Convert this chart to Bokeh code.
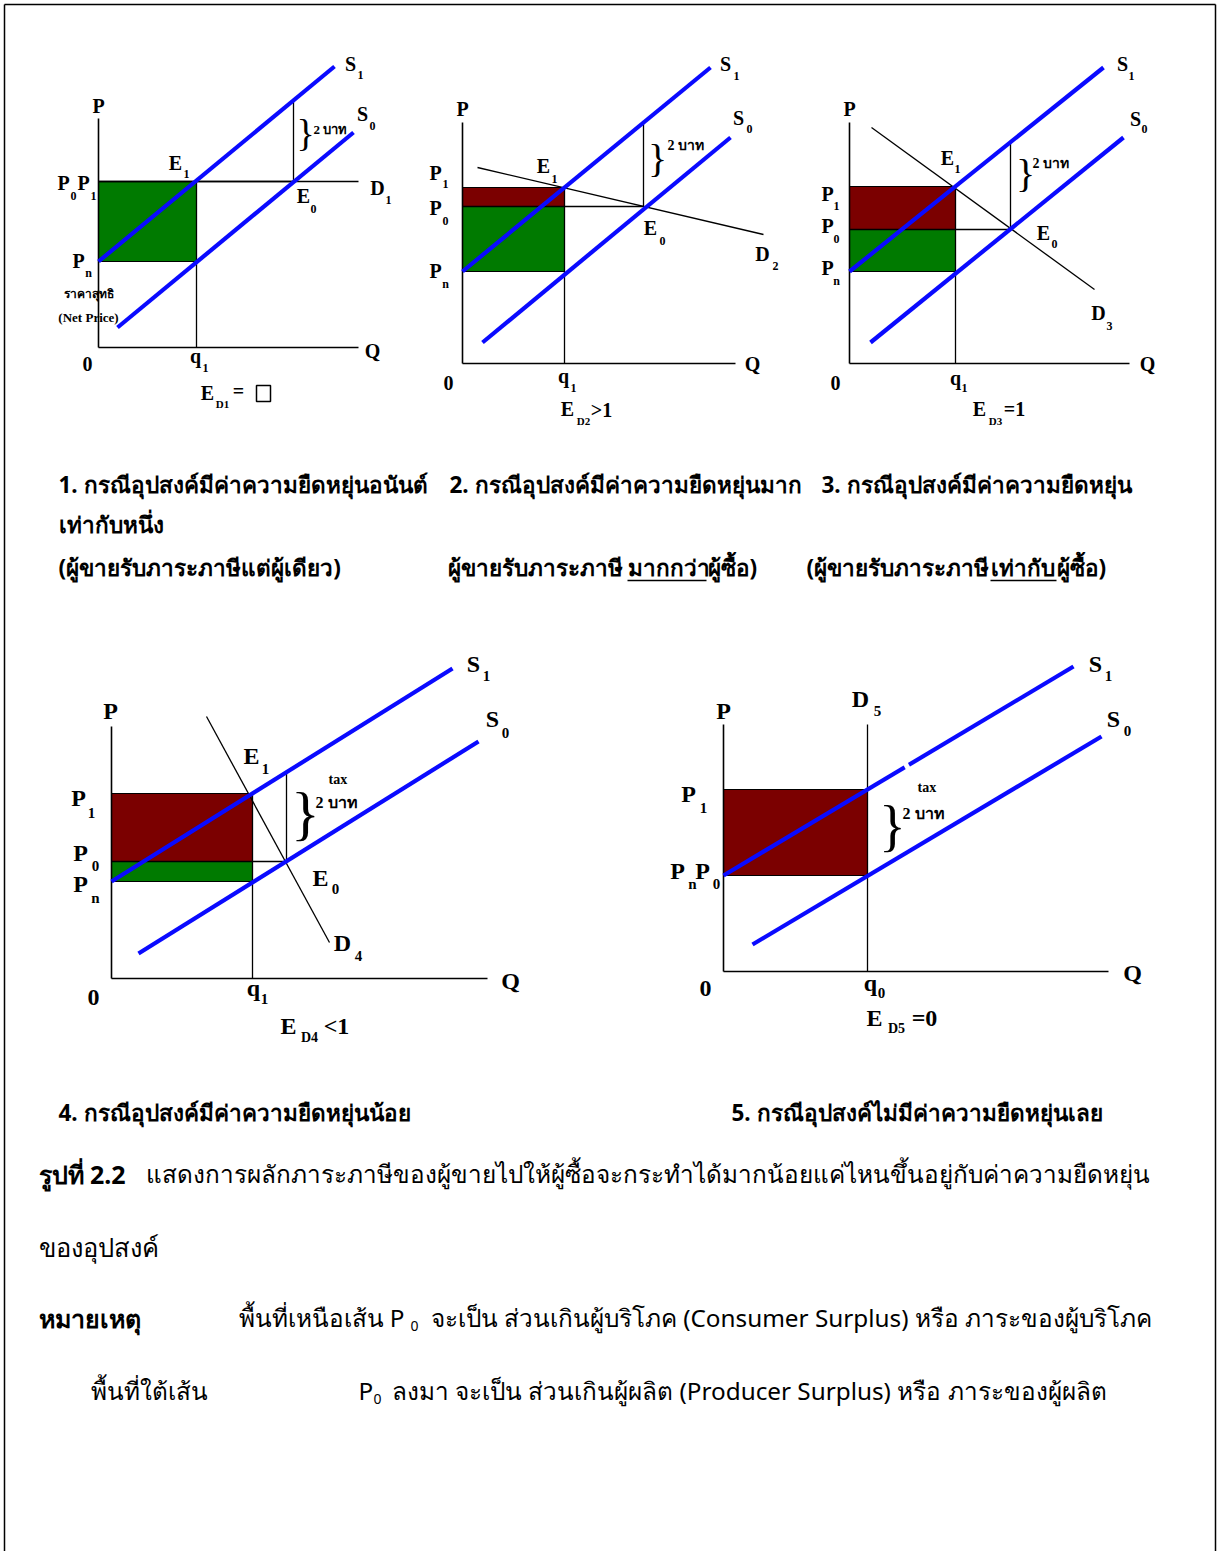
from bokeh.plotting import figure
from bokeh.models import Range1d, ColumnDataSource
from bokeh.embed import file_html
from bokeh.resources import INLINE
from bokeh.core.properties import value

W, H = 1218, 1551

# ---------------------------------------------------------------------------
# Diagram data, in panel units: quantity to the right, price upward,
# measured from each panel's axes corner.
# ---------------------------------------------------------------------------
PANELS = [1, 2, 3, 4, 5]
PANEL_ORIGIN = {1: (98, 347), 2: (462, 363), 3: (849, 363), 4: (111, 978), 5: (723, 971)}
AXIS_END = {1: (260, 229), 2: (273, 241), 3: (280, 241), 4: (376, 252), 5: (385, 247)}

# supply after tax (S1) and before tax (S0)
SUPPLY_S1 = {1: [(0, 86), (236, 281)], 2: [(0, 92), (248, 296)], 3: [(0, 92), (254, 296)],
             4: [(0, 97), (341, 310)], 5: [(0, 96), (350, 305)]}
SUPPLY_S0 = {1: [(19, 20), (255, 215)], 2: [(20, 21), (268, 226)], 3: [(21, 21), (274, 226)],
             4: [(27, 25), (367, 237)], 5: [(29, 27), (378, 235)]}
# demand curves D1..D5
DEMAND = {1: [(0, 166), (260, 166)], 2: [(15, 196), (301, 129)], 3: [(22, 236), (245, 74)],
          4: [(95, 262), (218, 36)], 5: [(144, 0), (144, 247)]}

PRICE_P1 = {1: 166, 2: 176, 3: 177, 4: 185, 5: 182}   # buyer price with tax
PRICE_P0 = {1: 166, 2: 157, 3: 134, 4: 117, 5: 96}    # price before tax
PRICE_PN = {1: 86, 2: 92, 3: 92, 4: 97, 5: 96}        # net price to seller
QTY_Q1 = {1: 98, 2: 102, 3: 106, 4: 141, 5: 144}      # quantity with tax
QTY_E0 = {1: 195, 2: 181, 3: 161, 4: 175, 5: 144}     # quantity before tax

BLUE = "#0a0aff"
MAROON = "#7b0000"
GREEN = "#007a00"
SERIF = "Liberation Serif"
THAI = "Noto Sans"


def page(k, pts):
    ox, oy = PANEL_ORIGIN[k]
    return [ox + q for q, _ in pts], [oy - pr for _, pr in pts]


def on_line(seg, q):
    (q0, p0), (q1, p1) = seg
    return p0 + (p1 - p0) * (q - q0) / (q1 - q0)


p = figure(width=W, height=H, x_range=Range1d(0, W), y_range=Range1d(H, 0),
           output_backend="svg", toolbar_location=None, min_border=0)
p.axis.visible = False
p.grid.visible = False
p.outline_line_color = None
p.background_fill_color = "white"

# page frame
p.multi_line(xs=[[4, 4], [4, 1215], [1215, 1215]], ys=[[1551, 4], [4, 4], [4, 1551]],
             line_color="black", line_width=1.5)

# ---- shaded tax burden areas
for k in PANELS:
    ox, oy = PANEL_ORIGIN[k]
    q1 = QTY_Q1[k]
    if PRICE_P0[k] > PRICE_PN[k]:
        p.quad(left=ox, right=ox + q1, top=oy - PRICE_P0[k], bottom=oy - PRICE_PN[k],
               fill_color=GREEN, line_color="black", line_width=1)
    if PRICE_P1[k] > PRICE_P0[k]:
        p.quad(left=ox, right=ox + q1, top=oy - PRICE_P1[k], bottom=oy - PRICE_P0[k],
               fill_color=MAROON, line_color="black", line_width=1)

# ---- axes, guides and demand
for k in PANELS:
    ox, oy = PANEL_ORIGIN[k]
    qe, pt = AXIS_END[k]
    p.line([ox, ox], [oy, oy - pt], line_color="black", line_width=1.6)
    p.line([ox, ox + qe], [oy, oy], line_color="black", line_width=1.6)
    xs, ys = page(k, DEMAND[k])
    p.line(xs, ys, line_color="black", line_width=1.3)
    if k != 5:
        q1, qE = QTY_Q1[k], QTY_E0[k]
        # q1 drop line
        xs, ys = page(k, [(q1, 0), (q1, PRICE_P1[k])])
        p.line(xs, ys, line_color="black", line_width=1.3)
        # P0 level to the old equilibrium
        xs, ys = page(k, [(0, PRICE_P0[k]), (qE, PRICE_P0[k])])
        p.line(xs, ys, line_color="black", line_width=1.3)
        # vertical tax wedge between S0 and S1
        xs, ys = page(k, [(qE, PRICE_P0[k]), (qE, on_line(SUPPLY_S1[k], qE))])
        p.line(xs, ys, line_color="black", line_width=1.3)

# ---- supply curves
for k in PANELS:
    for seg in (SUPPLY_S1[k], SUPPLY_S0[k]):
        xs, ys = page(k, seg)
        p.line(xs, ys, line_color=BLUE, line_width=4.2)

# small break in S1 where a label box sat
p.rect(x=[906], y=[765], width=[5], height=[14], angle=[0.5], fill_color="white",
       line_color=None)

# ---- diagram labels (bold serif), centred
A, a = 20, 12      # upper three diagrams: letters, subscripts
B, b = 24, 15      # lower two diagrams
LBL = [
    # panel 1
    ("P", 98, 105, A), ("S", 350, 63, A), ("1", 360, 74, a), ("S", 362, 113, A), ("0", 372, 125, a),
    ("E", 175, 162, A), ("1", 186, 173, a), ("P", 63, 182, A), ("0", 73, 195, a),
    ("P", 83, 182, A), ("1", 93, 195, a), ("D", 377, 187, A), ("1", 388, 199, a),
    ("E", 303, 195, A), ("0", 313, 208, a), ("P", 78, 260, A), ("n", 88, 272, a),
    ("ราคาสุทธิ", 88, 293, 12), ("(Net Price)", 88, 317, 13), ("0", 87, 363, A),
    ("q", 195, 355, A), ("1", 205, 367, a), ("Q", 372, 350, A),
    ("E", 207, 392, A), ("D1", 222, 403, 11), ("=", 238, 390, A),
    # panel 2
    ("P", 462, 108, A), ("S", 725, 63, A), ("1", 736, 75, a), ("S", 738, 117, A), ("0", 749, 128, a),
    ("P", 435, 172, A), ("1", 445, 183, a), ("E", 543, 165, A), ("1", 554, 178, a),
    ("P", 435, 207, A), ("0", 445, 220, a), ("E", 650, 227, A), ("0", 662, 240, a),
    ("D", 762, 253, A), ("2", 775, 265, a), ("P", 435, 270, A), ("n", 445, 283, a),
    ("0", 448, 382, A), ("q", 563, 375, A), ("1", 573, 387, a), ("Q", 752, 363, A),
    ("E", 567, 408, A), ("D2", 583, 420, 11), (">1", 601, 409, A),
    # panel 3
    ("P", 849, 108, A), ("S", 1122, 63, A), ("1", 1131, 75, a), ("S", 1135, 118, A), ("0", 1144, 128, a),
    ("E", 947, 157, A), ("1", 957, 168, a), ("P", 827, 193, A), ("1", 836, 205, a),
    ("P", 827, 225, A), ("0", 836, 238, a), ("E", 1043, 232, A), ("0", 1054, 243, a),
    ("P", 827, 267, A), ("n", 836, 280, a), ("D", 1098, 312, A), ("3", 1109, 325, a),
    ("0", 835, 382, A), ("q", 955, 377, A), ("1", 964, 387, a), ("Q", 1147, 363, A),
    ("E", 979, 408, A), ("D3", 995, 420, 11), ("=1", 1014, 408, A),
    # panel 4
    ("P", 110, 710, B), ("S", 473, 663, B), ("1", 486, 675, b), ("S", 492, 718, B), ("0", 505, 732, b),
    ("E", 251, 755, B), ("1", 265, 768, b), ("P", 78, 797, B), ("1", 91, 812, b),
    ("P", 80, 852, B), ("0", 95, 865, b), ("P", 80, 883, B), ("n", 95, 897, b),
    ("E", 320, 877, B), ("0", 335, 888, b), ("D", 342, 942, B), ("4", 358, 955, b),
    ("0", 93, 997, B), ("q", 253, 987, B), ("1", 264, 998, b), ("Q", 510, 980, B),
    ("E", 288, 1025, B), ("D4", 309, 1037, 14), ("<1", 336, 1025, B),
    # panel 5
    ("P", 723, 710, B), ("D", 860, 698, B), ("5", 877, 710, b),
    ("S", 1095, 663, B), ("1", 1108, 675, b), ("S", 1113, 718, B), ("0", 1127, 730, b),
    ("P", 688, 793, B), ("1", 703, 807, b), ("P", 677, 870, B), ("n", 692, 883, b),
    ("P", 702, 870, B), ("0", 716, 883, b), ("0", 705, 988, B),
    ("q", 870, 982, B), ("0", 881, 992, b), ("Q", 1132, 972, B),
    ("E", 874, 1017, B), ("D5", 896, 1028, 14), ("=0", 924, 1017, B),
]
src = ColumnDataSource(dict(t=[r[0] for r in LBL], x=[r[1] for r in LBL], y=[r[2] for r in LBL],
                            s=["%dpx" % r[3] for r in LBL]))
p.text(x="x", y="y", text="t", text_font_size="s", source=src, text_font=value(SERIF),
       text_font_style="bold", text_align="center", text_baseline="middle", text_color="black")

# empty box after E_D1 =
p.rect(x=[263], y=[393], width=[14], height=[16], fill_color=None, line_color="black", line_width=1.5)

# tax braces and the 2-baht notes
BRACES = [(305, 132, 38), (657, 158, 40), (1025, 173, 40), (305, 812, 60), (892, 825, 56)]
p.text(x=[br[0] for br in BRACES], y=[br[1] for br in BRACES], text=["}"] * len(BRACES),
       text_font_size=["%dpx" % br[2] for br in BRACES], text_font=value(SERIF),
       text_align="center", text_baseline="middle", text_color="black")
NOTES = [("2 บาท", 313, 129, 13), ("2 บาท", 667, 145, 14), ("2 บาท", 1032, 163, 14),
         ("2 บาท", 315, 802, 16), ("2 บาท", 902, 813, 16), ("tax", 917, 787, 14), ("tax", 328, 779, 14)]
p.text(x=[n[1] for n in NOTES], y=[n[2] for n in NOTES], text=[n[0] for n in NOTES],
       text_font_size=["%dpx" % n[3] for n in NOTES], text_font=value(SERIF), text_font_style="bold",
       text_align="left", text_baseline="middle", text_color="black")
# the clipped "tax" over the fourth diagram
p.quad(left=[322], right=[362], top=[760], bottom=[774], fill_color="white", line_color=None)


# ---- captions and notes
def put(txt, x, y, size, bold=False):
    p.text(x=[x], y=[y], text=[txt], text_font=value(THAI), text_font_size="%.1fpx" % size,
           text_font_style="bold" if bold else "normal", text_align="left",
           text_baseline="middle", text_color="black")


CAP = 22.5
put("1. กรณีอุปสงค์มีค่าความยืดหยุ่นอนันต์", 58, 484, CAP, True)
put("2. กรณีอุปสงค์มีค่าความยืดหยุ่นมาก", 449, 484, CAP, True)
put("3. กรณีอุปสงค์มีค่าความยืดหยุ่น", 821, 484, CAP, True)
put("เท่ากับหนึ่ง", 58, 524, CAP, True)
put("(ผู้ขายรับภาระภาษีแต่ผู้เดียว)", 58, 567, CAP, True)
put("ผู้ขายรับภาระภาษี", 447, 567, CAP, True)
put("มากกว่า", 627, 567, CAP, True)
put("ผู้ซื้อ)", 707, 567, CAP, True)
put("(ผู้ขายรับภาระภาษี", 806, 567, CAP, True)
put("เท่ากับ", 990, 567, CAP, True)
put("ผู้ซื้อ)", 1056, 567, CAP, True)
p.multi_line(xs=[[627, 706], [990, 1056]], ys=[[580, 580], [580, 580]], line_color="black", line_width=1.5)

put("4. กรณีอุปสงค์มีค่าความยืดหยุ่นน้อย", 58, 1112, CAP, True)
put("5. กรณีอุปสงค์ไม่มีค่าความยืดหยุ่นเลย", 731, 1112, CAP, True)

BODY = 24.3
put("รูปที่ 2.2", 38, 1173, 25, True)
put("แสดงการผลักภาระภาษีของผู้ขายไปให้ผู้ซื้อจะกระทำได้มากน้อยแค่ไหนขึ้นอยู่กับค่าความยืดหยุ่น", 145, 1173, BODY)
put("ของอุปสงค์", 38, 1246, 25.5)
put("หมายเหตุ", 38, 1317, 25, True)
put("พื้นที่เหนือเส้น P", 238, 1317, BODY)
put("0", 410, 1325, 14)
put("จะเป็น ส่วนเกินผู้บริโภค (Consumer Surplus) หรือ ภาระของผู้บริโภค", 430, 1317, BODY)
put("พื้นที่ใต้เส้น", 90, 1390, BODY)
put("P", 358, 1390, BODY)
put("0", 373, 1398, 14)
put("ลงมา จะเป็น ส่วนเกินผู้ผลิต (Producer Surplus) หรือ ภาระของผู้ผลิต", 391, 1390, BODY)

open("out.html", "w").write(file_html(p, INLINE))
